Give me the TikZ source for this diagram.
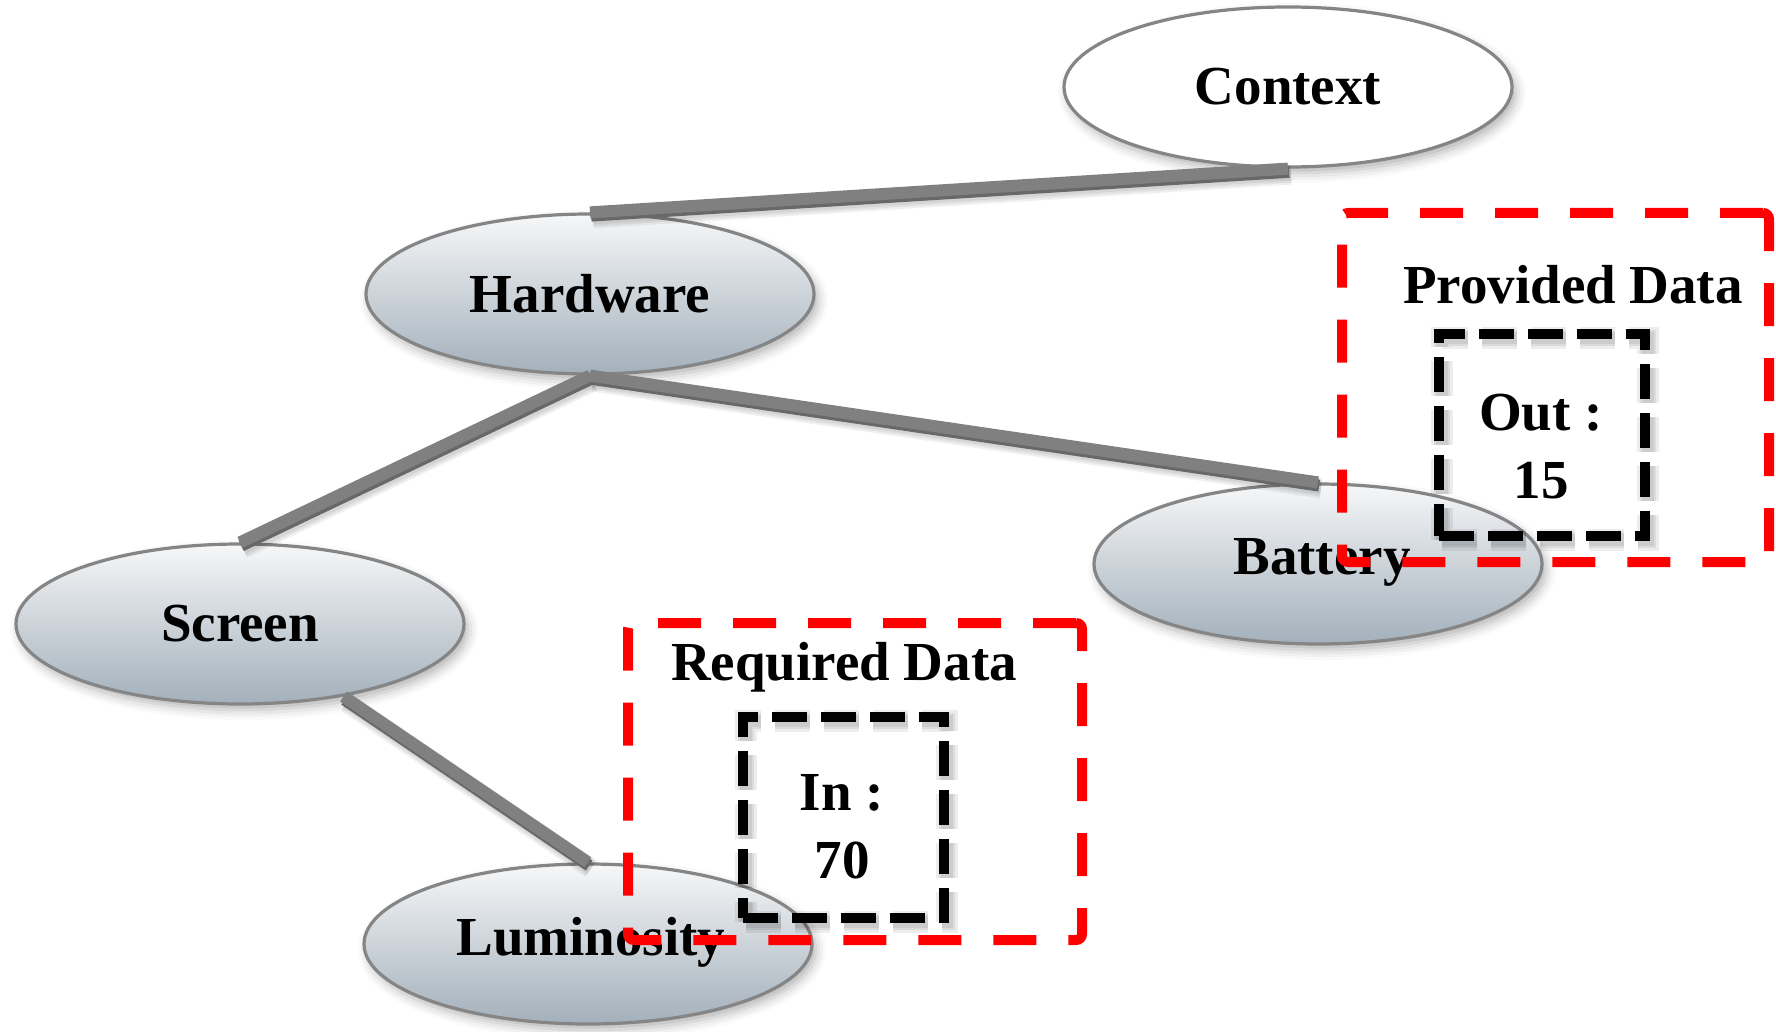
\documentclass[tikz,border=0pt]{standalone}
\usepackage{fontspec}
\setmainfont{Liberation Serif}
\usetikzlibrary{shapes.geometric,shadows.blur}
\definecolor{edgegray}{HTML}{808080}
\definecolor{edgedark}{HTML}{686868}
\definecolor{rimgray}{HTML}{858585}
\definecolor{topfill}{HTML}{F6F7F8}
\definecolor{botfill}{HTML}{A3B0BB}
\definecolor{dashred}{HTML}{FF0000}

\begin{document}
\begin{tikzpicture}[x=0.5pt,y=-0.5pt,
  lbl/.style={font=\fontsize{27.5}{34}\bfseries\selectfont, text=black},
  concept/.style={ellipse, draw=rimgray, line width=1.6pt, inner sep=0pt,
    minimum width=224pt, minimum height=80pt,
    blur shadow={shadow xshift=2pt, shadow yshift=-3pt, shadow blur radius=5pt, shadow opacity=30},
    lbl},
  rootconcept/.style={concept, fill=white},
  leafconcept/.style={concept, top color=topfill, bottom color=botfill},
  link/.style={draw=edgegray, line width=6pt},
  linkdark/.style={draw=edgedark, line width=6pt},
  linkshade/.style={draw=black, line width=#1, opacity=0.06},
  areabox/.style={draw=dashred, line width=5pt, dash pattern=on 21.5pt off 16pt,
    rounded corners=3pt, inner sep=0pt},
  valbox/.style={draw=black, line width=5pt, dash pattern=on 17.5pt off 7pt, inner sep=0pt},
  valshade/.style={draw=black, line width=#1, dash pattern=on 17.5pt off 7pt, inner sep=0pt, opacity=0.07},
]
\useasboundingbox (0,0) rectangle (1776,1032);

% concept ellipses
\node[rootconcept] (context) at (1288,87) {Context};
\node[leafconcept] (hardware) at (590,294) {Hardware};
\node[leafconcept] (screen) at (240,624) {Screen};
\node[leafconcept] (battery) at (1318,564) {};
\node[leafconcept] (lumin) at (588,944) {};

% soft shadow under the links
\begin{scope}[transform canvas={shift={(1.5pt,-3pt)}}]
  \foreach \w in {10pt,8pt,6pt} {
    \draw[linkshade=\w] (context.south) -- (hardware.north);
    \draw[linkshade=\w] (hardware.south) -- (screen.north);
    \draw[linkshade=\w] (hardware.south) -- (battery.north);
    \draw[linkshade=\w] (screen.-35) -- (lumin.north);
  }
\end{scope}
\begin{scope}[transform canvas={shift={(0.6pt,-1.6pt)}}]
  \draw[linkdark] (context.south) -- (hardware.north);
  \draw[linkdark] (hardware.south) -- (screen.north);
  \draw[linkdark] (hardware.south) -- (battery.north);
  \draw[linkdark] (screen.-35) -- (lumin.north);
\end{scope}

% links of the hierarchy
\draw[link] (context.south) -- (hardware.north);
\draw[link] (hardware.south) -- (screen.north);
\draw[link] (hardware.south) -- (battery.north);
\draw[link] (screen.-35) -- (lumin.north);

% labels of the lower ellipses
\node[lbl] (batterytxt) at (1322,562) {Battery};
\node[lbl] (lumintxt) at (591,942) {Luminosity};

% data areas
\node[areabox, minimum width=213.5pt, minimum height=174.5pt] (provarea) at (1555.5,387.5) {};
\node[areabox, minimum width=227pt, minimum height=158.5pt] (reqarea) at (855,781.5) {};

% shadows of the value boxes
\foreach \w/\n in {11pt/a,8pt/b,6pt/c} {
  \node[valshade=\w, minimum width=103pt, minimum height=101pt] (outshade\n) at (1545,439) {};
  \node[valshade=\w, minimum width=100.5pt, minimum height=100.5pt] (inshade\n) at (846.5,821.5) {};
}

% value boxes
\node[valbox, minimum width=103pt, minimum height=101pt] (outbox) at (1542,435) {};
\node[valbox, minimum width=100.5pt, minimum height=100.5pt] (inbox) at (843.5,817.5) {};

% texts of the data areas
\node[lbl] (provlabel) at (1573,285) {Provided Data};
\node[lbl] (reqlabel) at (844,667) {Required Data};
\node[lbl, align=center] (outtxt) at (1541,447) {Out :\\15};
\node[lbl, align=center] (intxt) at (842,827) {In :\\70};
\end{tikzpicture}
\end{document}
